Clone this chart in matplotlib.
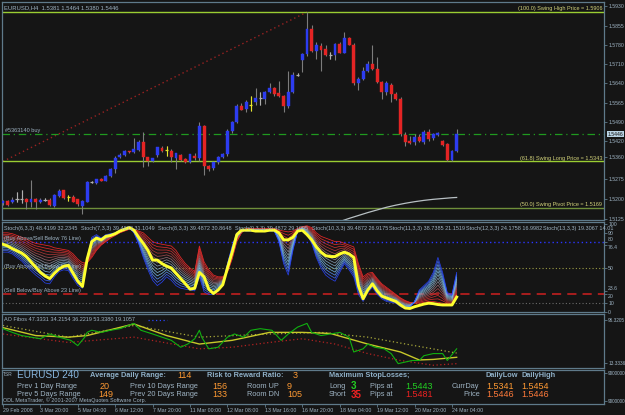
import numpy as np
import matplotlib.pyplot as plt
from matplotlib.colors import LinearSegmentedColormap
from matplotlib.transforms import blended_transform_factory

W, H = 625, 415
BG = '#151515'
FRAME = '#5f7a8a'
TXT = '#9fb4c4'
plt.rcParams['font.family'] = ['Liberation Sans', 'DejaVu Sans']

# ---- price data (pips above 1.5000), H4 bars ----
opens = [185, 194, 191, 200, 200, 200, 190, 200, 190, 197, 198, 175, 213, 234, 210, 207, 200, 175, 190, 265,
         260, 276, 270, 288, 314, 358, 368, 381, 377, 387, 417, 358, 345, 367, 393, 385, 383, 355, 367, 352,
         342, 364, 354, 475, 326, 318, 339, 360, 370, 456, 490, 553, 540, 556, 566, 581, 580, 606, 619, 600,
         589, 553, 604, 670, 727, 748, 843, 761, 778, 765, 745, 743, 787, 753, 808, 783, 637, 654, 685, 710,
         691, 641, 606, 631, 597, 580, 442, 421, 415, 434, 415, 455, 430, 442, 421, 408, 349, 381]
highs = [198, 196, 210, 226, 236, 205, 273, 204, 205, 205, 205, 220, 238, 236, 218, 215, 202, 196, 270, 270,
         278, 280, 291, 318, 363, 375, 386, 384, 430, 425, 455, 360, 356, 398, 400, 400, 388, 376, 370, 354,
         372, 375, 490, 480, 330, 342, 362, 374, 465, 495, 560, 565, 575, 589, 619, 604, 610, 640, 622, 648,
         592, 685, 680, 675, 750, 906, 856, 795, 790, 780, 755, 790, 795, 830, 813, 790, 660, 700, 723, 780,
         736, 645, 645, 640, 605, 585, 455, 437, 445, 445, 460, 465, 450, 452, 425, 412, 386, 464]
lows = [180, 175, 186, 188, 185, 165, 170, 165, 186, 192, 175, 172, 210, 200, 195, 188, 176, 145, 188, 260,
        258, 268, 268, 285, 300, 355, 365, 375, 375, 383, 322, 325, 340, 360, 380, 364, 340, 315, 345, 336,
        338, 350, 345, 290, 305, 310, 335, 356, 365, 450, 486, 535, 530, 534, 555, 556, 560, 602, 590, 586,
        528, 545, 600, 664, 680, 740, 755, 728, 685, 740, 729, 725, 750, 750, 780, 630, 614, 650, 680, 688,
        638, 578, 595, 567, 575, 440, 400, 410, 405, 415, 410, 420, 425, 438, 400, 343, 343, 380]
closes = [194, 178, 197, 200, 200, 190, 202, 190, 198, 197, 178, 216, 232, 204, 210, 190, 182, 192, 267, 265,
          276, 270, 289, 316, 355, 368, 381, 377, 390, 415, 358, 345, 354, 396, 383, 385, 358, 373, 349, 340,
          370, 354, 475, 326, 315, 339, 360, 370, 456, 490, 553, 538, 566, 556, 581, 581, 606, 619, 597, 589,
          553, 604, 669, 670, 748, 843, 761, 780, 762, 745, 745, 787, 753, 808, 783, 637, 654, 685, 710, 691,
          641, 606, 639, 597, 580, 446, 415, 413, 434, 419, 455, 427, 446, 450, 405, 349, 383, 446]
yellow_doji = [14, 35, 53]

ma_bars = [72, 74, 76, 78, 80, 82, 84, 86, 88, 90, 92, 94, 96, 97]
ma_vals = [1.5116, 1.5128, 1.5139, 1.5150, 1.5160, 1.5170, 1.5178, 1.5185, 1.5191, 1.5196, 1.5200, 1.5203,
           1.5206, 1.5207]
trend_bars = [0, 65]
trend_prices = [1.5343, 1.5906]

swing_high, swing_long, swing_pivot, order_price = 1.5906, 1.5343, 1.5169, 1.5446
price_ticks = [1.5930, 1.5855, 1.5780, 1.5710, 1.5640, 1.5565, 1.5490, 1.5420, 1.5360, 1.5275, 1.5200, 1.5125]

date_bars = [0, 8, 16, 24, 32, 40, 48, 56, 64, 72, 80, 88, 96]
date_labels = ['29 Feb 2008', '3 Mar 20:00', '5 Mar 04:00', '6 Mar 12:00', '7 Mar 20:00', '11 Mar 00:00',
               '12 Mar 08:00', '13 Mar 16:00', '16 Mar 20:00', '18 Mar 04:00', '19 Mar 12:00', '20 Mar 20:00',
               '24 Mar 04:00']

# ---- stochastic panel ----
stoch_yellow = [77, 75, 72, 69.5, 67, 63, 57, 51, 45, 41, 38, 44, 49, 52, 53, 44, 35, 29, 60, 80,
                84, 82, 86, 87, 89, 92, 94, 96, 93, 85, 78, 70, 59, 59, 55, 52, 50, 44, 38, 32,
                26, 27, 45, 40, 26, 21, 25, 31, 50, 68, 88, 93, 93, 93, 92, 92, 92, 93, 93, 90,
                82, 82, 85, 92, 93, 88, 82, 74, 68, 64, 63, 63, 66, 68, 66, 62, 30, 15, 25, 32,
                24, 18, 16, 14, 12, 8, 4.5, 4, 6, 7.5, 9, 10, 9.5, 8.5, 8, 8, 8, 17]
stoch_slow = [90, 90, 89, 87, 85, 83, 80, 78, 77, 76, 75, 73, 72, 71, 70, 66, 60, 56, 56, 62,
              70, 76, 80, 84, 87, 90, 92, 94, 94, 92, 90, 85, 80, 78, 77, 76, 75, 70, 62, 55,
              50, 46, 75, 57, 48, 42, 40, 40, 45, 60, 80, 90, 95, 95, 95, 95, 95, 95, 95, 93,
              92, 91, 92, 95, 97, 98, 96, 90, 86, 84, 82, 80, 80, 78, 76, 74, 55, 40, 44, 45,
              38, 32, 28, 24, 20, 16, 13, 11, 10, 10, 11, 12, 12, 11, 10, 9, 8, 20]
stoch_fast = [68, 68, 66, 62, 58, 52, 47, 42, 38, 33, 32, 40, 46, 48, 47, 38, 30, 27, 62, 85,
              88, 84, 88, 89, 90, 93, 95, 96, 90, 78, 62, 48, 36, 30, 34, 40, 36, 30, 27, 26,
              25, 24, 40, 23, 20, 20, 24, 30, 55, 75, 90, 93, 92, 92, 92, 92, 92, 92, 92, 80,
              55, 42, 70, 92, 94, 88, 78, 62, 50, 42, 38, 35, 45, 55, 48, 40, 20, 12, 22, 28,
              20, 15, 12, 11, 10, 6, 4, 5, 12, 25, 30, 35, 45, 62, 45, 22, 20, 45]
stoch_levels = [100, 90, 80, 76.4, 50, 23.6, 20, 10, 0]
stoch_names = ['Stoch(6,3,3) 48.4199 32.2345', 'Stoch(7,3,3) 39.4872 31.1049', 'Stoch(8,3,3) 39.4872 30.8648',
               'Stoch(9,3,3) 39.4872 29.1095', 'Stoch(10,3,3) 39.4872 26.9175', 'Stoch(11,3,3) 38.7385 21.1519',
               'Stoch(12,3,3) 24.1758 16.9982', 'Stoch(13,3,3) 19.3067 14.01']

# ---- AO fibos panel ----
ao_green_bars = [0, 2, 4, 6, 8, 10, 12, 14.5, 16, 17.5, 18, 19, 21, 23, 25, 28, 29.5, 32, 34, 36, 38, 39.5, 41,
                 42, 42.5, 44, 46, 48, 49.5, 51.5, 53, 55, 57.5, 59.5, 61, 63, 65, 66, 68, 70, 72, 74, 75, 77,
                 78, 79.5, 81.5, 83, 84.5, 86, 87.5, 89, 90, 92, 94, 95, 97]
ao_green = [79, 72, 66, 63, 60, 69, 63, 57, 47, 63, 72, 76, 72, 76, 79, 89, 76, 69, 63, 57, 44, 50, 60,
            76, 63, 41, 44, 63, 69, 63, 76, 79, 76, 57, 69, 82, 89, 72, 66, 69, 72, 63, 35, 41,
            50, 44, 41, 32, 13, 16, 19, 19, 28, 32, 32, 19, 41]
ao_yellow_bars = [0, 7, 14, 18, 28, 35, 42, 49, 57, 64, 70, 78, 85, 89, 92, 97]
ao_yellow = [81, 66, 63, 66, 88, 66, 50, 57, 72, 72, 70, 50, 35, 20, 21, 25]
ao_slow_bars = [0, 14, 28, 42, 57, 68, 78, 88, 97]
ao_slow = [85, 63, 85, 63, 69, 72, 63, 47, 33]
ao_red_bars = [0, 14, 28, 42, 49, 57, 64, 71, 78, 85, 92, 97]
ao_red = [69, 53, 63, 41, 44, 53, 60, 50, 32, 19, 10, 13]
ao_blue_bars = [31, 35]
ao_blue = [95, 95]


def rect(x0, y0, x1, y1):
    return [x0 / W, 1 - y1 / H, (x1 - x0) / W, (y1 - y0) / H]


def style(ax, ylim):
    ax.set_facecolor(BG)
    ax.set_xlim(-0.2, 128.5)
    ax.set_ylim(*ylim)
    for s in ax.spines.values():
        s.set_color(FRAME)
        s.set_linewidth(0.9)
    ax.yaxis.tick_right()
    ax.tick_params(axis='y', colors=FRAME, labelcolor=TXT, labelsize=3.7, length=2, width=0.6, pad=1)
    ax.tick_params(axis='x', bottom=False, labelbottom=False)


fig = plt.figure(figsize=(W / 100, H / 100), dpi=100, facecolor=BG)

# ================= price panel =================
ax = fig.add_axes(rect(2, 2, 604, 220))
style(ax, (1.5122, 1.5944))
o = 1.5 + np.array(opens) / 10000
h = 1.5 + np.array(highs) / 10000
l = 1.5 + np.array(lows) / 10000
c = 1.5 + np.array(closes) / 10000
x = np.arange(len(o))

ax.plot(trend_bars, trend_prices, color='#9a2222', lw=1.0, ls=(0, (1, 2.2)), zorder=1)
ax.axhline(swing_high, color='#9acd32', lw=1.0, zorder=1)
ax.axhline(swing_long, color='#9acd32', lw=1.0, zorder=1)
ax.axhline(swing_pivot, color='#6f8f3a', lw=1.0, zorder=1)
ax.axhline(order_price, color='#1f9a1f', lw=0.9, ls=(0, (6, 3, 1, 3)), zorder=1)
ax.plot(ma_bars, ma_vals, color='#b8c0c4', lw=0.9, zorder=2)

ax.vlines(x, l, h, color='#7c7c7c', lw=0.8, zorder=3)
up = c > o
dn = c < o
ax.bar(x[up], (c - o)[up], bottom=o[up], width=0.62, color='#2d3cf0', edgecolor='#2d3cf0', lw=0.3, zorder=4)
ax.bar(x[dn], (o - c)[dn], bottom=c[dn], width=0.62, color='#e42424', edgecolor='#e42424', lw=0.3, zorder=4)
for i in x[c == o]:
    col = '#e6e62a' if i in yellow_doji else '#b0b0b0'
    ax.vlines(i, l[i], h[i], color=col, lw=0.8, zorder=4)
    ax.hlines(c[i], i - 0.35, i + 0.35, color=col, lw=0.9, zorder=4)

ax.set_yticks(price_ticks)
ax.set_yticklabels(['%.4f' % v for v in price_ticks])
ax.text(0.004, 0.985, 'EURUSD,H4  1.5381 1.5464 1.5380 1.5446', transform=ax.transAxes,
        color=TXT, fontsize=4.2, va='top', ha='left')
tr = blended_transform_factory(ax.transAxes, ax.transData)
lab = '#d2d27a'
ax.text(0.997, swing_high + 0.0003, '(100.0) Swing High Price = 1.5906', transform=tr, color=lab,
        fontsize=4, ha='right', va='bottom')
ax.text(0.997, swing_long + 0.0003, '(61.8) Swing Long Price = 1.5343', transform=tr, color=lab,
        fontsize=4, ha='right', va='bottom')
ax.text(0.997, swing_pivot + 0.0003, '(50.0) Swing Pivot Price = 1.5169', transform=tr, color=lab,
        fontsize=4, ha='right', va='bottom')
ax.text(0.005, order_price + 0.0003, '#5363140 buy', transform=tr, color=TXT, fontsize=4,
        ha='left', va='bottom')
ax.text(1.006, order_price, '1.5446', transform=tr, color='#101010', fontsize=3.7, ha='left', va='center',
        bbox=dict(boxstyle='square,pad=0.15', fc='#b9d3e4', ec='none'))

# ================= stochastic panel =================
ax = fig.add_axes(rect(2, 222, 604, 312))
style(ax, (0, 102.3))
sx = np.arange(len(stoch_yellow))
slow = np.array(stoch_slow, float)
fast = np.array(stoch_fast, float)
cmap = LinearSegmentedColormap.from_list('fan', ['#ff2a2a', '#b23a3a', '#8a98aa', '#7cc4ee', '#2a46ff'])
n = 14
for k in range(n):
    t = k / (n - 1)
    ax.plot(sx, slow + (fast - slow) * t, color=cmap(t), lw=0.55, alpha=0.9, zorder=2)
ax.axhline(80, color='#2b35ff', lw=1.0, ls=(0, (1, 2)), zorder=1)
ax.axhline(50, color='#9c9c45', lw=0.8, ls=(0, (1, 2)), zorder=1)
ax.axhline(20, color='#d02020', lw=1.1, ls=(0, (6, 4)), zorder=1)
ax.axhline(10, color='#6a6a6a', lw=0.8, ls=(0, (1, 2)), zorder=1)
ax.plot(sx, stoch_yellow, color='#ffff2e', lw=2.1, zorder=3)
ax.set_yticks(stoch_levels)
ax.set_yticklabels(['%g' % v for v in stoch_levels])
for lbl, v in zip(ax.get_yticklabels(), stoch_levels):
    if v in (80, 23.6):
        lbl.set_va('bottom')
    elif v in (76.4, 20):
        lbl.set_va('top')
for j, name in enumerate(stoch_names):
    fig.text((4 + 77 * j) / W, 1 - 228.5 / H, name, color=TXT, fontsize=3.95, va='center', ha='left')
for name, lev in [('(Buy Above/Sell Below 76 Line)', 84), ('(Buy Above/Sell Below 50 Line)', 52),
                  ('(Sell Below/Buy Above 23 Line)', 25)]:
    ax.text(0.003, lev, name, transform=blended_transform_factory(ax.transAxes, ax.transData),
            color=TXT, fontsize=4, ha='left', va='center', zorder=2.5)

# ================= AO panel =================
ax = fig.add_axes(rect(2, 314, 604, 368))
style(ax, (4.8, 106.7))
ax.plot(ao_red_bars, ao_red, color='#b42222', lw=0.9, ls=(0, (1, 2)), zorder=1)
ax.plot(ao_slow_bars, ao_slow, color='#a8a83a', lw=0.9, ls=(0, (1, 2)), zorder=1)
ax.plot(ao_blue_bars, ao_blue, color='#2a46ff', lw=0.9, ls=(0, (1, 2)), zorder=1)
ax.plot(ao_yellow_bars, ao_yellow, color='#c8c82a', lw=1.0, zorder=2)
ax.plot(ao_green_bars, ao_green, color='#10b010', lw=0.8, zorder=3)
ax.set_yticks([96.3205, 13.3336])
ax.set_yticklabels(['96.3205', '13.3336'])
ax.tick_params(axis='y', labelsize=3.4)
ax.text(0.004, 0.9, 'AO Fibos 47.3331 34.2154 36.2219 53.3380 19.1057', transform=ax.transAxes,
        color=TXT, fontsize=4, va='center', ha='left')

# ================= info panel =================
ax = fig.add_axes(rect(2, 370, 604, 404))
style(ax, (0, 1))
ax.set_yticks([0.91, 0.09])
ax.set_yticklabels(['9000000', '9000000'])
ax.tick_params(axis='y', labelsize=3.4)
ax.set_xticks(date_bars)
ax.set_xticklabels(date_labels)
ax.tick_params(axis='x', bottom=True, labelbottom=True, colors=FRAME, labelcolor=TXT, labelsize=3.8,
               length=2, width=0.6, pad=1)
for t_ in ax.get_xticklabels():
    t_.set_ha('left')


def T(xp, yp, s, col=TXT, size=5.3, weight='normal'):
    fig.text(xp / W, 1 - yp / H, s, color=col, fontsize=size, fontweight=weight, va='center', ha='left')


ORG = '#ff9a33'
T(3, 374, 'TSR', size=3.5)
T(17, 375.5, 'EURUSD 240', col='#86b4dc', size=7.2)
T(90, 375.5, 'Average Daily Range:', col='#8fb0c8', size=5.3, weight='bold')
T(177, 375.5, '114', col=ORG, size=6.5)
T(207, 375.5, 'Risk to Reward Ratio:', col='#8fb0c8', size=5.3, weight='bold')
T(293, 375.5, '3', col=ORG, size=6.5)
T(329, 375.5, 'Maximum StopLosses;', col='#8fb0c8', size=5.3, weight='bold')
T(485, 375.5, 'DailyLow', col='#8fb0c8', size=5.3, weight='bold')
T(521, 375.5, 'DailyHigh', col='#8fb0c8', size=5.3, weight='bold')

T(17, 386, 'Prev 1 Day Range')
T(100, 386, '20', col=ORG, size=6.5)
T(130, 386, 'Prev 10 Days Range')
T(212, 386, '156', col=ORG, size=6.5)
T(247, 386, 'Room UP')
T(287, 386, '9', col=ORG, size=6.5)
T(329, 386, 'Long')
T(351, 386, '3', col='#22d022', size=7, weight='bold')
T(370, 386, 'Pips at')
T(405, 386, '1.5443', col='#22d022', size=6.5)
T(452, 386, 'CurrDay')
T(486, 386, '1.5341', col=ORG, size=6.5)
T(521, 386, '1.5454', col=ORG, size=6.5)

T(17, 394.5, 'Prev 5 Days Range')
T(98, 394.5, '149', col=ORG, size=6.5)
T(130, 394.5, 'Prev 20 Days Range')
T(212, 394.5, '133', col=ORG, size=6.5)
T(247, 394.5, 'Room DN')
T(287, 394.5, '105', col=ORG, size=6.5)
T(329, 394.5, 'Short')
T(351, 394.5, '35', col='#ee2222', size=7, weight='bold')
T(370, 394.5, 'Pips at')
T(405, 394.5, '1.5481', col='#ee2222', size=6.5)
T(463, 394.5, 'Price')
T(486, 394.5, '1.5446', col='#ff7a3a', size=6.5)
T(521, 394.5, '1.5446', col='#ff7a3a', size=6.5)
T(3, 400.5, 'ODL MetaTrader, \u00a9 2001-2007 MetaQuotes Software Corp.', size=3.9)

fig.savefig('out.png', dpi=100, facecolor=BG)
